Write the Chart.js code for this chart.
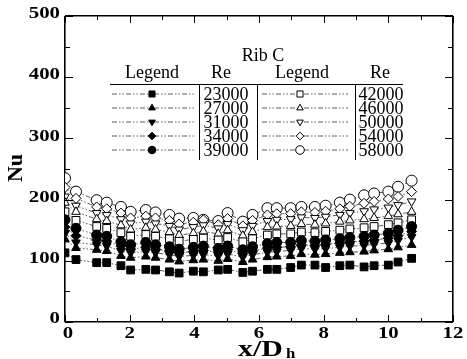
<!DOCTYPE html>
<html>
<head>
<meta charset="utf-8">
<script src="https://cdn.jsdelivr.net/npm/chart.js@4.4.1/dist/chart.umd.min.js"></script>
<style>
  html, body { margin: 0; padding: 0; background: #fff; }
  #wrap { width: 467px; height: 359px; }
</style>
</head>
<body>
<div id="wrap"><canvas id="nuChart"></canvas></div>
<script>
// x/Dh 위치
const xPos = [0, 0.34, 0.98, 1.29, 1.73, 2.03, 2.5, 2.8, 3.23, 3.53, 3.97, 4.28, 4.74, 5.03, 5.5,
  5.8, 6.26, 6.55, 6.98, 7.31, 7.73, 8.06, 8.5, 8.81, 9.25, 9.56, 10, 10.3, 10.72];

// Nu 값 (Re 별)
const re23000 = [113, 102, 97, 97, 92, 85, 86, 85, 82, 80, 83, 82, 85, 86, 81, 83, 86, 86, 89, 93, 93, 89, 92, 93, 90, 92, 93, 98, 104];
const re27000 = [135, 121, 118, 116, 108, 105, 107, 105, 102, 99, 101, 102, 100, 103, 98, 102, 106, 107, 108, 111, 110, 111, 113, 114, 115, 117, 119, 122, 126];
const re31000 = [145, 130, 126, 124, 116, 113, 115, 113, 110, 107, 109, 110, 108, 111, 106, 110, 114, 115, 117, 120, 119, 120, 122, 124, 125, 127, 129, 133, 139];
const re34000 = [155, 141, 134, 132, 124, 119, 122, 119, 116, 113, 115, 117, 114, 118, 112, 116, 121, 122, 123, 126, 125, 127, 129, 131, 132, 134, 137, 141, 148];
const re39000 = [167, 153, 142, 140, 131, 126, 130, 126, 123, 119, 122, 124, 120, 124, 118, 123, 128, 130, 130, 133, 132, 134, 136, 138, 140, 142, 145, 150, 156];
const re42000 = [180, 166, 156, 153, 146, 140, 143, 140, 136, 132, 135, 137, 134, 138, 131, 136, 142, 144, 144, 147, 146, 148, 150, 152, 154, 156, 159, 162, 167];
const re46000 = [195, 180, 168, 165, 158, 151, 154, 151, 147, 142, 145, 148, 144, 150, 141, 147, 155, 156, 157, 160, 159, 161, 164, 166, 168, 170, 173, 176, 180];
const re50000 = [205, 190, 178, 175, 168, 161, 164, 161, 157, 151, 155, 158, 153, 160, 150, 157, 165, 167, 168, 171, 170, 172, 175, 178, 181, 184, 187, 191, 197];
const re54000 = [220, 202, 188, 185, 178, 170, 173, 170, 166, 160, 163, 167, 159, 169, 157, 166, 175, 177, 177, 180, 179, 181, 185, 189, 194, 197, 201, 205, 213];
const re58000 = [235, 213, 199, 195, 188, 180, 183, 179, 175, 169, 170, 167, 165, 178, 164, 175, 186, 186, 186, 188, 188, 190, 195, 200, 207, 210, 213, 221, 231];

// 축 눈금
const xMajorTicks = [0, 2, 4, 6, 8, 10, 12];
const xMinorTicks = [1, 3, 5, 7, 9, 11];
const yMajorTicks = [0, 100, 200, 300, 400, 500];
const yMinorTicks = [50, 150, 250, 350, 450];

const SERIF = "'Liberation Serif', 'Times New Roman', serif";

const seriesList = [
  { re: "23000", data: re23000, style: "rect", open: false, rot: 0, r: 5.5 },
  { re: "27000", data: re27000, style: "triangle", open: false, rot: 0, r: 5 },
  { re: "31000", data: re31000, style: "triangle", open: false, rot: 180, r: 5 },
  { re: "34000", data: re34000, style: "rectRot", open: false, rot: 0, r: 5 },
  { re: "39000", data: re39000, style: "circle", open: false, rot: 0, r: 5 },
  { re: "42000", data: re42000, style: "rect", open: true, rot: 0, r: 5.5 },
  { re: "46000", data: re46000, style: "triangle", open: true, rot: 0, r: 5 },
  { re: "50000", data: re50000, style: "triangle", open: true, rot: 180, r: 5 },
  { re: "54000", data: re54000, style: "rectRot", open: true, rot: 0, r: 5 },
  { re: "58000", data: re58000, style: "circle", open: true, rot: 0, r: 5.5 },
];

const lineDash = [5, 2, 1.5, 2, 1.5, 2];

const datasets = seriesList.map((s) => ({
  label: s.re,
  data: s.data.map((v, i) => ({ x: xPos[i], y: v })),
  borderColor: "#333",
  borderWidth: 0.8,
  borderDash: lineDash,
  pointStyle: s.style,
  pointRotation: s.rot,
  pointRadius: s.r,
  pointBorderWidth: 1,
  pointBorderColor: "#000",
  pointBackgroundColor: s.open ? "#fff" : "#000",
  fill: false,
  tension: 0,
}));

// 가로로 늘린 글자
function stretchText(ctx, text, x, y, align, sx) {
  ctx.save();
  ctx.translate(x, y);
  ctx.scale(sx, 1);
  ctx.textAlign = align;
  ctx.fillText(text, 0, 0);
  ctx.restore();
}

// 테두리 격자선: 양 끝 값만 검정
const edgeColor = (lo, hi) => (c) => (c.tick && (c.tick.value === lo || c.tick.value === hi) ? "#000" : "rgba(0,0,0,0)");

const decorPlugin = {
  id: "decor",
  afterDraw(chart) {
    const ctx = chart.ctx;
    const a = chart.chartArea;
    const xs = chart.scales.x, ys = chart.scales.y;
    ctx.save();
    ctx.setLineDash([]);
    ctx.fillStyle = "#000";
    ctx.strokeStyle = "#000";

    // 안쪽 눈금
    ctx.lineWidth = 1;
    ctx.beginPath();
    xMajorTicks.concat(xMinorTicks).forEach((v) => {
      const len = xMajorTicks.includes(v) ? 7 : 4;
      const px = Math.round(xs.getPixelForValue(v)) + 0.5;
      ctx.moveTo(px, a.bottom); ctx.lineTo(px, a.bottom - len);
      ctx.moveTo(px, a.top); ctx.lineTo(px, a.top + len);
    });
    yMajorTicks.concat(yMinorTicks).forEach((v) => {
      const len = yMajorTicks.includes(v) ? 8 : 5;
      const py = Math.round(ys.getPixelForValue(v)) + 0.5;
      ctx.moveTo(a.left, py); ctx.lineTo(a.left + len, py);
      ctx.moveTo(a.right, py); ctx.lineTo(a.right - len, py);
    });
    ctx.stroke();

    // Rib C 범례 표
    ctx.font = "18px " + SERIF;
    ctx.textBaseline = "middle";
    ctx.textAlign = "center";
    ctx.fillText("Rib C", 263, 56);
    ctx.fillText("Legend", 152, 73);
    ctx.fillText("Re", 221, 73);
    ctx.fillText("Legend", 302, 73);
    ctx.fillText("Re", 380, 73);

    ctx.beginPath();
    ctx.moveTo(110, 84.5); ctx.lineTo(403, 84.5);
    [199.5, 257.5, 355.5].forEach((x) => { ctx.moveTo(x, 84.5); ctx.lineTo(x, 160); });
    ctx.stroke();

    const rowY = [94, 108, 122, 136, 150];
    seriesList.forEach((s, i) => {
      const col = i < 5 ? 0 : 1;
      const y = rowY[i % 5];
      const x0 = col ? 262 : 112, x1 = col ? 348 : 194, xm = col ? 300 : 152;
      ctx.save();
      ctx.strokeStyle = "#333";
      ctx.lineWidth = 0.8;
      ctx.setLineDash(lineDash);
      ctx.beginPath();
      ctx.moveTo(x0, y); ctx.lineTo(x1, y);
      ctx.stroke();
      ctx.restore();
      ctx.fillStyle = s.open ? "#fff" : "#000";
      ctx.strokeStyle = "#000";
      ctx.lineWidth = 1;
      Chart.helpers.drawPoint(ctx, { pointStyle: s.style, rotation: s.rot, radius: s.r - 1.2, borderWidth: 1 }, xm, y);
      ctx.fillStyle = "#000";
      ctx.textAlign = "center";
      ctx.fillText(s.re, col ? 381 : 226, y + 1);
    });

    // 눈금 글자
    ctx.fillStyle = "#000";
    ctx.font = "bold 16px " + SERIF;
    ctx.textBaseline = "middle";
    xMajorTicks.forEach((v) => {
      stretchText(ctx, String(v), xs.getPixelForValue(v) + (v === 0 ? 3 : 0), a.bottom + 12, "center", 1.3);
    });
    yMajorTicks.forEach((v) => {
      stretchText(ctx, String(v), a.left - 5, ys.getPixelForValue(v) - (v === 0 ? 3 : 2), "right", 1.3);
    });

    // x/Dh
    ctx.textBaseline = "alphabetic";
    ctx.font = "bold 23px " + SERIF;
    stretchText(ctx, "x/D", 238, 356, "left", 1.3);
    ctx.font = "bold 14px " + SERIF;
    stretchText(ctx, "h", 286, 358, "left", 1.2);

    // Nu
    ctx.translate(16, 168);
    ctx.rotate(-Math.PI / 2);
    ctx.font = "bold 22px " + SERIF;
    ctx.textAlign = "center";
    ctx.textBaseline = "middle";
    ctx.fillText("Nu", 0, 0);
    ctx.restore();
  },
};

const ctxNu = document.getElementById("nuChart").getContext("2d");

const nuChart = new Chart(ctxNu, {
  type: "line",
  data: { datasets },
  options: {
    responsive: true,
    maintainAspectRatio: false,
    animation: false,
    layout: { padding: { left: 65, right: 14, top: 16, bottom: 37 } },
    plugins: {
      legend: { display: false },
      tooltip: { enabled: false },
    },
    scales: {
      x: {
        type: "linear",
        min: 0,
        max: 12,
        afterFit: (s) => { s.height = 0; },
        ticks: { display: false, stepSize: 2 },
        border: { display: false },
        grid: { drawTicks: false, tickLength: 0, lineWidth: 1.6, color: edgeColor(0, 12) },
      },
      y: {
        type: "linear",
        min: 0,
        max: 500,
        afterFit: (s) => { s.width = 0; },
        ticks: { display: false, stepSize: 100 },
        border: { display: false },
        grid: { drawTicks: false, tickLength: 0, lineWidth: 1.6, color: edgeColor(0, 500) },
      },
    },
  },
  plugins: [decorPlugin],
});
</script>
</body>
</html>
